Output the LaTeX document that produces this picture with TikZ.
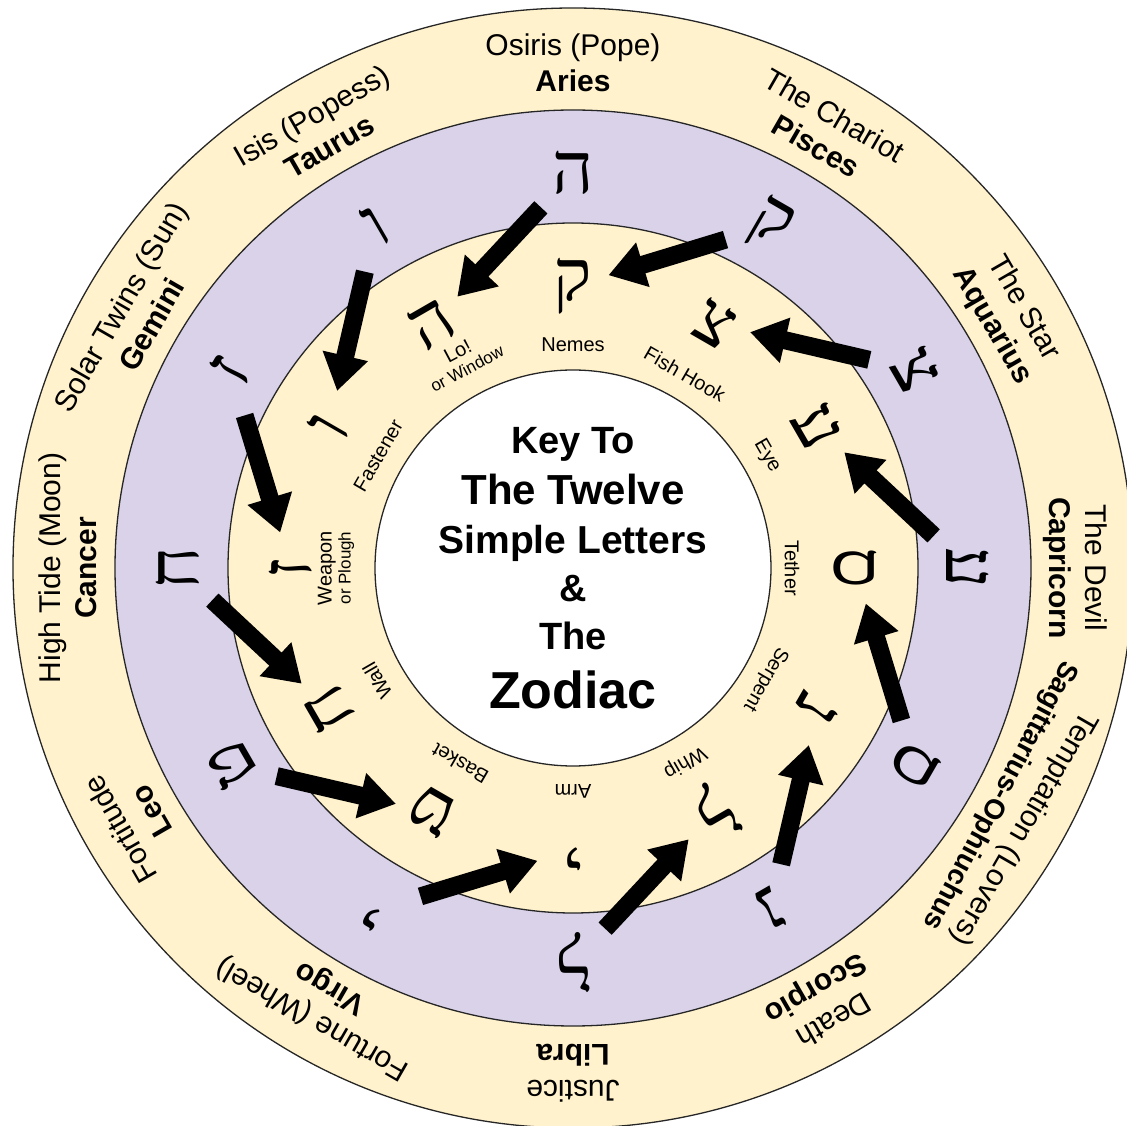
\documentclass[tikz,border=0pt]{standalone}
\usepackage{fontspec}
\setmainfont{Liberation Sans}
\newfontfamily\hebfont[Script=Hebrew]{Liberation Serif}
\usetikzlibrary{arrows.meta}
\definecolor{signyellow}{HTML}{FFF2CC}
\definecolor{letterpurple}{HTML}{D9D2E9}
\tikzset{
  ring/.style={draw=black!85, line width=1.3pt},
  hebletter/.style={font=\hebfont\fontsize{72}{72}\selectfont, inner sep=0pt},
  meaning/.style={font=\fontsize{20}{22}\selectfont, inner sep=0pt, align=center},
  tarot/.style={font=\fontsize{30}{32}\selectfont, inner sep=0pt, text height=21.5pt, text depth=0pt},
  sign/.style={tarot, font=\fontsize{30}{32}\selectfont\bfseries},
  keytext/.style={anchor=base, inner sep=0pt},
  shift arrow/.style={line width=18pt, -{Triangle[width=44pt,length=36pt]}, shorten <=47pt, shorten >=37pt}
}
\begin{document}
\begin{tikzpicture}[x=1pt,y=1pt]
\useasboundingbox (-573,-558) rectangle (554,568);
\draw[ring, fill=signyellow] (0,0) circle [radius=560pt];
\draw[ring, fill=letterpurple] (0,0) circle [radius=458pt];
\draw[ring, fill=signyellow] (0,0) circle [radius=345pt];
\draw[ring, fill=white] (0,0) circle [radius=198pt];

\foreach \a/\t/\c/\b [count=\k] in {90/Osiris (Pope)/90/Aries, 120/Isis (Popess)/120/Taurus,
  150/Solar Twins (Sun)/150/Gemini, 180/High Tide (Moon)/180/Cancer, 210/Fortitude/210/Leo,
  240/Fortune (Wheel)/240/Virgo, 270/Justice/270/Libra, 300/Death/300/Scorpio,
  330/Temptation (Lovers)/332/{\fontsize{28}{30}\selectfont Sagittarius-Ophiuchus}, 0/The Devil/0/Capricorn,
  30/The Star/30/Aquarius, 60/The Chariot/60/Pisces}{
  \node[tarot, rotate=\a-90] (tarot\k) at (\a:523) {\t};
  \node[sign, rotate=\c-90] (sign\k) at (\c:487) {\b};
}

\foreach \l [count=\k from 0] in {ה,ו,ז,ח,ט,י,ל,נ,ס,ע,צ,ק}{
  \pgfmathsetmacro\a{90+30*\k}
  \node[hebletter, rotate=\a-90] (p\k) at (\a:395) {\l};
  \node[hebletter, rotate=\a-60] (q\k) at (\a+30:282) {\l};
  \draw[shift arrow] (p\k.center) -- (q\k.center);
}

\foreach \a/\r/\m [count=\k] in {118/236/{Lo!\\[-3pt]{\fontsize{17}{20}\selectfont or Window}},
  150/225/Fastener, 180/237/{Weapon\\[-3pt]{\fontsize{17}{20}\selectfont or Plough}},
  210/226/Wall, 240/226/Basket, 270/223/Arm, 300/224/Whip, 330/222/Serpent,
  0/219/Tether, 30/224/Eye, 60/224/Fish Hook, 90/223/Nemes}
  \node[meaning, rotate=\a-90] (mean\k) at (\a:\r) {\m};

\foreach \y/\s/\t [count=\k] in {114.5/38/Key To, 63/42/The Twelve, 14/39/Simple Letters,
  -33.6/38/\&, -81.6/38/The, -140.6/52/Zodiac}
  \node[keytext, font=\fontsize{\s}{\s}\selectfont\bfseries] (key\k) at (0,\y) {\t};
\end{tikzpicture}
\end{document}
